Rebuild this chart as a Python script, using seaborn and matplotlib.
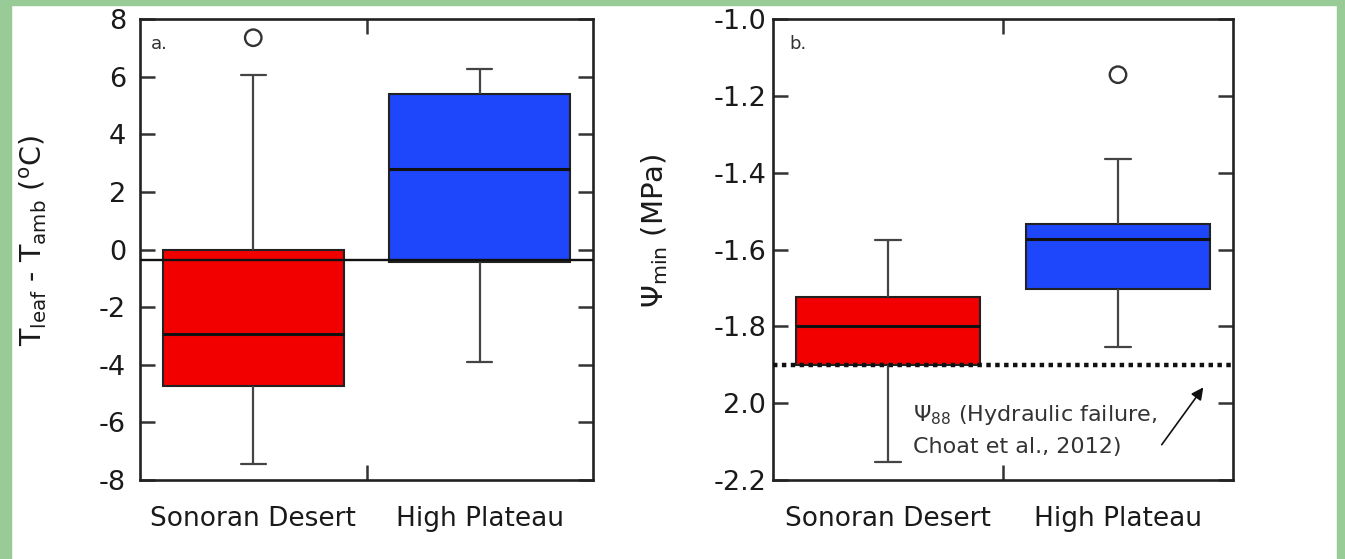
import matplotlib
matplotlib.use("Agg")
import matplotlib.pyplot as plt
import seaborn as sns
import pandas as pd
from matplotlib.patches import Rectangle

# ---------------- data ----------------
categories = ["Sonoran Desert", "High Plateau"]
# five-number summaries: lower whisker, Q1, median, Q3, upper whisker
temp_sonoran = [-7.45, -4.75, -2.95, 0.0, 6.05]
temp_plateau = [-3.9, -0.45, 2.8, 5.4, 6.25]
temp_outlier_cats = ["Sonoran Desert"]
temp_outlier_vals = [7.35]
temp_ref_line = -0.35

psi_sonoran = [-2.152, -1.90, -1.80, -1.723, -1.574]
psi_plateau = [-1.854, -1.702, -1.572, -1.533, -1.365]
psi_outlier_cats = ["High Plateau"]
psi_outlier_vals = [-1.145]
psi_88 = -1.90

temp_ticks = [-8, -6, -4, -2, 0, 2, 4, 6, 8]
temp_tick_labels = ["-8", "-6", "-4", "-2", "0", "2", "4", "6", "8"]
psi_ticks = [-2.2, -2.0, -1.8, -1.6, -1.4, -1.2, -1.0]
psi_tick_labels = ["-2.2", "2.0", "-1.8", "-1.6", "-1.4", "-1.2", "-1.0"]

RED = "#f20000"
BLUE = "#1e46fb"
GREEN = "#98cb96"
INK = "#1a1a1a"

sns.set_theme(style="white")
plt.rcParams["font.family"] = ["DejaVu Sans"]
plt.rcParams["mathtext.fontset"] = "dejavusans"

fig = plt.figure(figsize=(13.45, 5.59), dpi=100)
fig.patch.set_facecolor("white")
W, H = 1345, 559
# green frame
fig.patches.append(Rectangle((0, 0), 11 / W, 1, transform=fig.transFigure, color=GREEN, zorder=-10))
fig.patches.append(Rectangle((0, 1 - 5 / H), 1, 5 / H, transform=fig.transFigure, color=GREEN, zorder=-10))
fig.patches.append(Rectangle((1337 / W, 0), 8 / W, 1, transform=fig.transFigure, color=GREEN, zorder=-10))

axA = fig.add_axes([140 / W, 79 / H, 453 / W, 461 / H])
axB = fig.add_axes([773 / W, 79 / H, 460 / W, 461 / H])


def draw_panel(ax, s1, s2, out_cats, out_vals):
    df = pd.DataFrame({
        "site": [categories[0]] * len(s1) + [categories[1]] * len(s2),
        "value": list(s1) + list(s2),
    })
    sns.boxplot(data=df, x="site", y="value", hue="site", order=categories,
                hue_order=categories, palette=[RED, BLUE], saturation=1,
                whis=(0, 100), width=0.8, linewidth=1.5, linecolor="black",
                legend=False, capwidths=0.11, ax=ax,
                whiskerprops={"color": "#444444", "linewidth": 1.6},
                capprops={"color": "#444444", "linewidth": 1.6},
                medianprops={"color": "#111111", "linewidth": 2.2},
                boxprops={"edgecolor": "#222222", "linewidth": 1.5})
    odf = pd.DataFrame({"site": out_cats, "value": out_vals})
    sns.scatterplot(data=odf, x="site", y="value", marker="o", s=140,
                    facecolor="none", edgecolor="#333333", linewidth=1.7,
                    ax=ax, zorder=5)
    ax.set_xlim(-0.5, 1.5)
    ax.set_xticks([0, 1])
    ax.set_xticklabels(categories, fontsize=19, color=INK)
    ax.set_xticks([0.5], minor=True)
    ax.tick_params(axis="x", which="major", length=0, pad=19)
    ax.tick_params(axis="x", which="minor", direction="in", top=True,
                   bottom=True, length=11, width=1.8, color="#333333")
    ax.tick_params(axis="y", which="major", direction="in", left=True,
                   right=True, length=11, width=1.8, color="#333333",
                   labelsize=19.5, labelcolor=INK)
    ax.set_xlabel("")
    for sp in ax.spines.values():
        sp.set_visible(True)
        sp.set_color("#222222")
        sp.set_linewidth(1.9)


draw_panel(axA, temp_sonoran, temp_plateau, temp_outlier_cats, temp_outlier_vals)
axA.set_ylim(-8, 8)
axA.set_yticks(temp_ticks)
axA.set_yticklabels(temp_tick_labels)
axA.tick_params(axis="y", pad=10)
axA.axhline(temp_ref_line, color="#111111", linewidth=1.7, zorder=6)
axA.set_ylabel(r"T$_{\mathregular{leaf}}$ - T$_{\mathregular{amb}}$ ($^{\mathregular{o}}$C)",
               fontsize=20.5, color=INK)
axA.yaxis.set_label_coords(-0.2, 0.52)
axA.text(0.025, 0.965, "a.", transform=axA.transAxes, fontsize=13,
         va="top", ha="left", color="#333333")

draw_panel(axB, psi_sonoran, psi_plateau, psi_outlier_cats, psi_outlier_vals)
axB.set_ylim(-2.2, -1.0)
axB.set_yticks(psi_ticks)
axB.set_yticklabels(psi_tick_labels)
axB.tick_params(axis="y", pad=5)
axB.axhline(psi_88, color="#111111", linewidth=3.2, linestyle=(0, (1, 1)), zorder=6)
axB.set_ylabel(r"$\Psi_{\mathregular{min}}$ (MPa)", fontsize=21, color=INK)
axB.yaxis.set_label_coords(-0.225, 0.54)
axB.text(0.035, 0.965, "b.", transform=axB.transAxes, fontsize=13,
         va="top", ha="left", color="#333333")
axB.text(0.11, -2.07, r"$\Psi_{\mathregular{88}}$ (Hydraulic failure," "\n" "Choat et al., 2012)",
         fontsize=16, va="center", ha="left", color="#333333", linespacing=1.65)
axB.annotate("", xy=(1.378, -1.953), xytext=(1.183, -2.114),
             arrowprops=dict(arrowstyle="-|>", color="#111111", lw=1.2,
                             mutation_scale=18))

fig.savefig("out.png", dpi=100, facecolor="white")
